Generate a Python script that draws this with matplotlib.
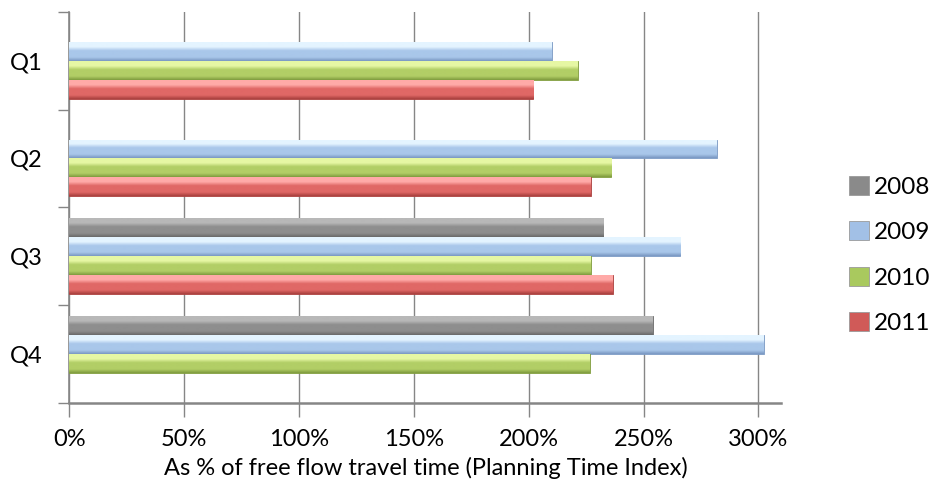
import numpy as np
import matplotlib
matplotlib.use("Agg")
import matplotlib.pyplot as plt
from matplotlib.colors import LinearSegmentedColormap
from matplotlib.patches import Patch

plt.rcParams['font.family'] = ['Lato', 'DejaVu Sans']

quarters = ["Q1", "Q2", "Q3", "Q4"]
years = ["2008", "2009", "2010", "2011"]
v2008 = [np.nan, np.nan, 232.5, 254.0]
v2009 = [210.0, 282.0, 266.0, 302.5]
v2010 = [221.5, 236.0, 227.0, 226.5]
v2011 = [202.0, 227.0, 236.5, np.nan]
series = [v2008, v2009, v2010, v2011]
x_ticks = [0, 50, 100, 150, 200, 250, 300]
x_ticklabels = ["0%", "50%", "100%", "150%", "200%", "250%", "300%"]
xlabel = "As % of free flow travel time (Planning Time Index)"

# (light top, mid, dark bottom)
shades = [
    ("#b8b8b8", "#8e8e8e", "#6a6a6a"),
    ("#e4f4ff", "#a9c7ea", "#7a98c2"),
    ("#e6f7a4", "#b2ce66", "#7f9b3e"),
    ("#ffaaa8", "#e06866", "#a9403e"),
]
legend_colors = ["#8a8a8a", "#a2c0e6", "#a9c95e", "#d05a58"]

fig = plt.figure(figsize=(9.37, 4.92), dpi=100)
ax = fig.add_axes([0.074, 0.181, 0.760, 0.795])

h = 0.194
y = np.arange(len(quarters))
for j, (vals, sh) in enumerate(zip(series, shades)):
    vals = np.array(vals, dtype=float)
    ypos = y + (j - 1.5) * h
    mask = ~np.isnan(vals)
    bars = ax.barh(ypos[mask], vals[mask], height=h, color=sh[1],
                   edgecolor=sh[2], linewidth=0.6, zorder=3)
    cmap = LinearSegmentedColormap.from_list(
        "g%d" % j, [(0.0, sh[0]), (0.25, sh[0]), (0.45, sh[1]), (0.8, sh[1]), (1.0, sh[2])])
    grad = np.linspace(0, 1, 64).reshape(-1, 1)
    for p in bars:
        x0, y0 = p.get_x(), p.get_y()
        w, hh = p.get_width(), p.get_height()
        im = ax.imshow(grad, cmap=cmap, aspect='auto', origin='upper',
                       extent=(x0, x0 + w, y0 + hh, y0), zorder=3.5,
                       interpolation='bilinear')
        im.set_clip_path(p)

ax.set_xlim(0, 310)
ax.set_ylim(len(quarters) - 0.5, -0.5)

ax.set_xticks(x_ticks)
ax.set_xticklabels(x_ticklabels)
ax.set_yticks(y)
ax.set_yticklabels(quarters)
ax.set_yticks(np.arange(len(quarters) + 1) - 0.5, minor=True)

ax.tick_params(axis='y', which='major', length=0, pad=19, labelsize=17)
ax.tick_params(axis='y', which='minor', length=8, width=1, color='#868686', direction='out')
ax.tick_params(axis='x', which='major', length=10, width=1, color='#868686',
               direction='out', pad=9, labelsize=17)

ax.grid(axis='x', color='#868686', linewidth=1, zorder=0)
ax.set_axisbelow(True)
for s in ['top', 'right']:
    ax.spines[s].set_visible(False)
ax.spines['left'].set_color('#868686')
ax.spines['left'].set_linewidth(1.2)
ax.spines['bottom'].set_color('#868686')
ax.spines['bottom'].set_linewidth(1.8)

ax.set_xlabel(xlabel, fontsize=17, labelpad=5)

handles = [Patch(facecolor=c, edgecolor='#9a9a9a', linewidth=0.6) for c in legend_colors]
fig.legend(handles, years, loc='center left', bbox_to_anchor=(0.906, 0.482),
           frameon=False, fontsize=17.5, handlelength=0.82, handleheight=0.82,
           handletextpad=0.2, labelspacing=0.97, borderpad=0, borderaxespad=0)

fig.savefig("out.png", dpi=100)
